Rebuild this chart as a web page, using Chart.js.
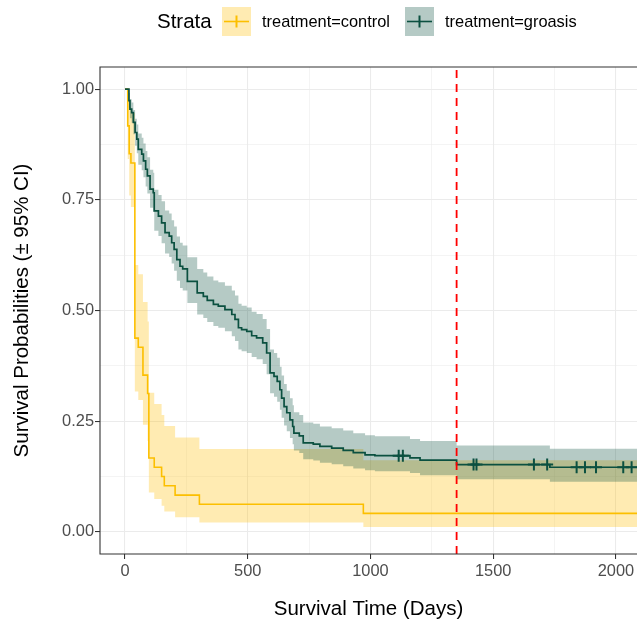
<!DOCTYPE html>
<html lang="en">
<head>
<meta charset="UTF-8">
<title>Survival curves by treatment</title>
<script src="https://cdn.jsdelivr.net/npm/chart.js"></script>
<style>
  html, body { margin: 0; padding: 0; background: #fff; }
  #chartContainer { position: relative; width: 637px; height: 622px; }
</style>
</head>
<body>
<div id="chartContainer"><canvas id="survChart" width="637" height="622"></canvas></div>
<script>
// treatment=control (step times in days, survival and 95% CI)
const ctrlTime  = [0, 11, 17, 24, 40, 54, 73, 92, 97, 119, 149, 160, 204, 303, 971, 2086];
const ctrlSurv  = [1, 0.917, 0.854, 0.833, 0.4375, 0.417, 0.354, 0.3125, 0.167, 0.146, 0.125, 0.104, 0.083, 0.0625, 0.0417, 0.0417];
const ctrlUpper = [1, 0.998, 0.960, 0.946, 0.603, 0.582, 0.519, 0.475, 0.314, 0.289, 0.264, 0.239, 0.213, 0.187, 0.162, 0.162];
const ctrlLower = [1, 0.842, 0.760, 0.734, 0.317, 0.298, 0.242, 0.205, 0.089, 0.074, 0.059, 0.046, 0.033, 0.021, 0.011, 0.011];

// treatment=groasis
const groTime  = [0, 16, 20, 27, 34, 41, 48, 54, 68, 75, 84, 91, 102, 115, 119, 136, 149, 163, 180, 190,
                  200, 211, 224, 235, 254, 294, 319, 335, 360, 380, 407, 435, 448, 462, 475, 496, 516, 536, 561, 577,
                  591, 607, 620, 631, 638, 648, 659, 672, 683, 688, 710, 726, 767, 794, 842, 889, 930, 978, 1018, 1161,
                  1202, 1351, 1731, 2086];
const groSurv  = [1, 0.974, 0.955, 0.947, 0.925, 0.902, 0.887, 0.864, 0.853, 0.838, 0.819, 0.804, 0.774, 0.766, 0.725, 0.713, 0.698, 0.676, 0.668, 0.653,
                  0.638, 0.615, 0.600, 0.594, 0.566, 0.540, 0.532, 0.523, 0.514, 0.510, 0.502, 0.491, 0.480, 0.461, 0.457, 0.453, 0.443, 0.438, 0.427, 0.404,
                  0.359, 0.351, 0.340, 0.321, 0.302, 0.283, 0.269, 0.253, 0.238, 0.223, 0.217, 0.201, 0.198, 0.193, 0.189, 0.184, 0.179, 0.174, 0.172, 0.167,
                  0.162, 0.152, 0.146, 0.146];
const groUpper = [1, 0.991, 0.977, 0.970, 0.953, 0.933, 0.920, 0.900, 0.890, 0.877, 0.860, 0.846, 0.818, 0.811, 0.773, 0.761, 0.747, 0.726, 0.719, 0.704,
                  0.690, 0.667, 0.653, 0.647, 0.620, 0.594, 0.586, 0.577, 0.568, 0.564, 0.556, 0.545, 0.534, 0.515, 0.511, 0.507, 0.497, 0.492, 0.481, 0.458,
                  0.412, 0.404, 0.393, 0.373, 0.353, 0.334, 0.319, 0.302, 0.286, 0.270, 0.264, 0.247, 0.244, 0.238, 0.234, 0.229, 0.223, 0.218, 0.216, 0.210,
                  0.205, 0.195, 0.188, 0.188];
const groLower = [1, 0.958, 0.934, 0.924, 0.898, 0.872, 0.855, 0.829, 0.817, 0.801, 0.780, 0.764, 0.732, 0.723, 0.680, 0.668, 0.652, 0.629, 0.621, 0.606,
                  0.590, 0.567, 0.551, 0.545, 0.517, 0.491, 0.483, 0.474, 0.465, 0.461, 0.453, 0.442, 0.431, 0.412, 0.408, 0.404, 0.395, 0.390, 0.379, 0.356,
                  0.313, 0.305, 0.294, 0.276, 0.258, 0.240, 0.227, 0.212, 0.198, 0.184, 0.178, 0.164, 0.161, 0.156, 0.153, 0.148, 0.143, 0.139, 0.137, 0.133,
                  0.128, 0.119, 0.113, 0.113];

// censored observations (groasis)
const groCensTime = [1115, 1132, 1420, 1432, 1666, 1720, 1840, 1874, 1919, 2030, 2064];
const groCensSurv = [0.172, 0.172, 0.152, 0.152, 0.152, 0.152, 0.146, 0.146, 0.146, 0.146, 0.146];

// reference line
const vlineDay = 1351;

// axis ticks
const xMajor = [0, 500, 1000, 1500, 2000];
const xMinor = [250, 750, 1250, 1750];
const yMajor = [0, 0.25, 0.5, 0.75, 1];
const yMinor = [0.125, 0.375, 0.625, 0.875];

const strataLabels = ['treatment=control', 'treatment=groasis'];

const YELLOW = '#FCBF00';
const YELLOW_BAND = 'rgba(255, 190, 0, 0.3)';
const GREEN = '#0B5040';
const GREEN_BAND = 'rgba(11, 80, 64, 0.3)';

const toPts = (t, v) => t.map((x, i) => ({ x: x, y: v[i] }));

Chart.defaults.font.family = '"Liberation Sans", Arial, Helvetica, sans-serif';

// panel border + legend drawn on top
const panelAndLegend = {
    id: 'panelAndLegend',
    afterDraw(chart) {
        const ctx = chart.ctx;
        const a = chart.chartArea;
        ctx.save();
        ctx.strokeStyle = '#333333';
        ctx.lineWidth = 1.1;
        ctx.beginPath();
        ctx.moveTo(a.right + 2, a.top);
        ctx.lineTo(a.left, a.top);
        ctx.lineTo(a.left, a.bottom);
        ctx.lineTo(a.right + 2, a.bottom);
        ctx.stroke();

        // legend
        const cy = 21.5;
        ctx.fillStyle = '#000';
        ctx.textBaseline = 'middle';
        ctx.font = '20.5px "Liberation Sans", Arial, sans-serif';
        ctx.fillText('Strata', 157, cy + 1);

        const keys = [
            { x: 222, band: YELLOW_BAND, line: YELLOW, label: strataLabels[0], tx: 262 },
            { x: 405, band: GREEN_BAND, line: GREEN, label: strataLabels[1], tx: 445 }
        ];
        keys.forEach(k => {
            ctx.fillStyle = k.band;
            ctx.fillRect(k.x, cy - 14.5, 29, 29);
            ctx.strokeStyle = k.line;
            ctx.lineWidth = 1.6;
            ctx.beginPath();
            ctx.moveTo(k.x + 2, cy);
            ctx.lineTo(k.x + 27, cy);
            ctx.stroke();
            ctx.lineWidth = 2;
            ctx.beginPath();
            ctx.moveTo(k.x + 14.5, cy - 6);
            ctx.lineTo(k.x + 14.5, cy + 6);
            ctx.stroke();
            ctx.fillStyle = '#000';
            ctx.font = '16.4px "Liberation Sans", Arial, sans-serif';
            ctx.fillText(k.label, k.tx, cy + 1);
        });
        ctx.restore();
    }
};

const bandBase = { borderWidth: 0, borderColor: 'rgba(0,0,0,0)', pointRadius: 0, stepped: true };

new Chart(document.getElementById('survChart'), {
    type: 'line',
    data: {
        datasets: [
            Object.assign({ data: toPts(ctrlTime, ctrlUpper), fill: false, order: 4 }, bandBase),
            Object.assign({ data: toPts(ctrlTime, ctrlLower), fill: '-1', backgroundColor: YELLOW_BAND, order: 4 }, bandBase),
            Object.assign({ data: toPts(groTime, groUpper), fill: false, order: 3 }, bandBase),
            Object.assign({ data: toPts(groTime, groLower), fill: '-1', backgroundColor: GREEN_BAND, order: 3 }, bandBase),
            {
                label: strataLabels[0], data: toPts(ctrlTime, ctrlSurv), stepped: true,
                borderColor: YELLOW, borderWidth: 1.6, pointRadius: 0, fill: false, order: 2
            },
            {
                label: strataLabels[1], data: toPts(groTime, groSurv), stepped: true,
                borderColor: GREEN, borderWidth: 1.7, pointRadius: 0, fill: false, order: 1
            },
            {
                type: 'scatter', data: toPts(groCensTime, groCensSurv),
                pointStyle: 'cross', pointRadius: 6, pointBorderWidth: 2,
                borderColor: GREEN, backgroundColor: GREEN, order: 0
            },
            {
                data: [{ x: vlineDay, y: -0.05 }, { x: vlineDay, y: 1.05 }],
                borderColor: '#FF0000', borderWidth: 1.8, borderDash: [8, 6],
                pointRadius: 0, fill: false, order: -1
            }
        ]
    },
    options: {
        responsive: false,
        animation: false,
        layout: { autoPadding: false, padding: { top: 67, left: 0, right: 0, bottom: 0 } },
        plugins: { legend: { display: false }, tooltip: { enabled: false } },
        scales: {
            x: {
                type: 'linear', min: -102, max: 2086,
                afterBuildTicks: s => { s.ticks = xMajor.concat(xMinor).sort((a, b) => a - b).map(v => ({ value: v })); },
                afterFit: s => { s.height = 68; s.paddingLeft = 0; s.paddingRight = 0; },
                border: { display: false },
                grid: {
                    color: '#EBEBEB',
                    lineWidth: c => xMajor.includes(c.tick.value) ? 1.07 : 0.53,
                    tickLength: 5,
                    tickColor: c => xMajor.includes(c.tick.value) ? '#333333' : 'rgba(0,0,0,0)',
                    tickWidth: 1.07
                },
                ticks: {
                    autoSkip: false, maxRotation: 0, padding: 3, color: '#4D4D4D',
                    font: { size: 16.4 },
                    callback: v => xMajor.includes(v) ? String(v) : ''
                },
                title: {
                    display: true, text: 'Survival Time (Days)', color: '#000',
                    font: { size: 20.5 }, padding: { top: 0, bottom: 0 }
                }
            },
            y: {
                type: 'linear', min: -0.05, max: 1.05,
                afterBuildTicks: s => { s.ticks = yMajor.concat(yMinor).sort((a, b) => a - b).map(v => ({ value: v })); },
                afterFit: s => { s.width = 100; s.paddingTop = 0; s.paddingBottom = 0; },
                border: { display: false },
                grid: {
                    color: '#EBEBEB',
                    lineWidth: c => yMajor.includes(c.tick.value) ? 1.07 : 0.53,
                    tickLength: 5,
                    tickColor: c => yMajor.includes(c.tick.value) ? '#333333' : 'rgba(0,0,0,0)',
                    tickWidth: 1.07
                },
                ticks: {
                    autoSkip: false, padding: 1, color: '#4D4D4D',
                    font: { size: 16.4 },
                    callback: v => yMajor.includes(v) ? v.toFixed(2) : ''
                },
                title: {
                    display: true, text: 'Survival Probabilities (± 95% CI)', color: '#000',
                    font: { size: 20.5 }, padding: { top: 10, bottom: 0 }
                }
            }
        }
    },
    plugins: [panelAndLegend]
});
</script>
</body>
</html>
